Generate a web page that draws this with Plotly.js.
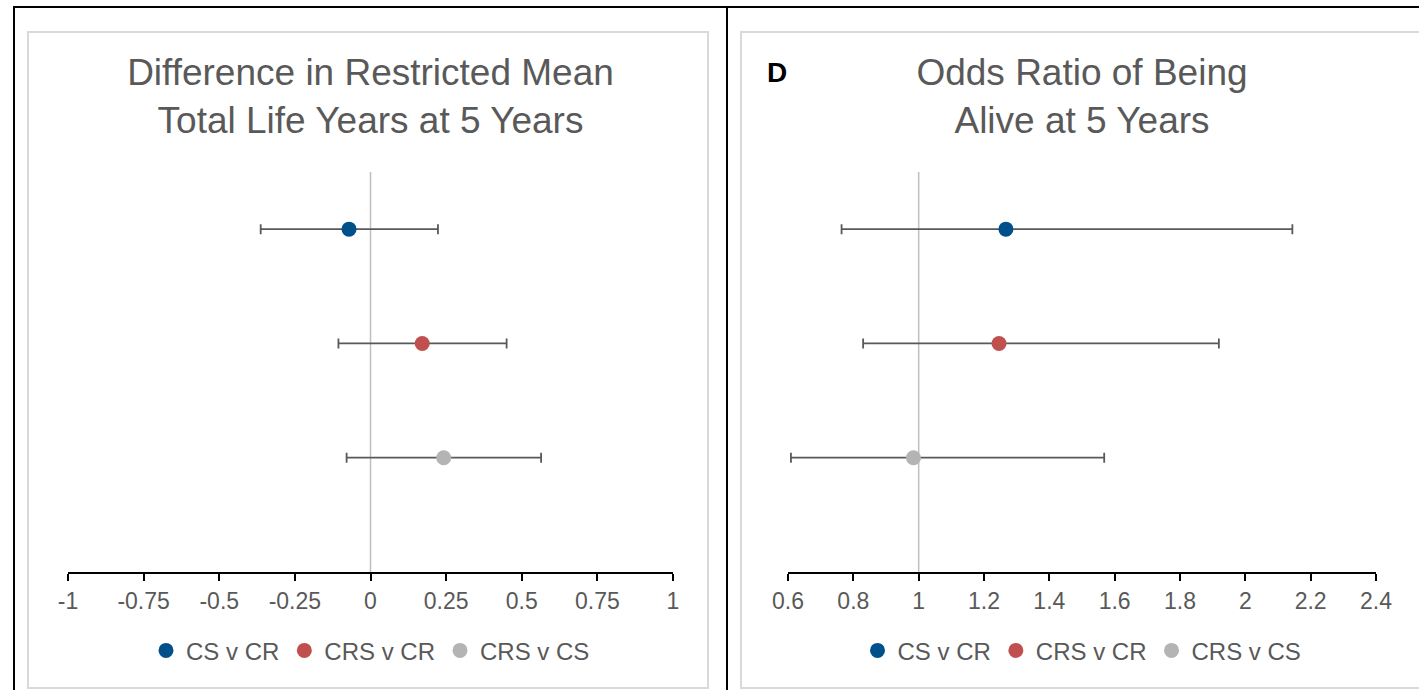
<!DOCTYPE html>
<html>
<head>
<meta charset="utf-8">
<script src="https://cdn.plot.ly/plotly-3.0.1.min.js"></script>
<style>
  html, body { margin:0; padding:0; background:#fff; width:1419px; height:690px; overflow:hidden; }
  .bl { position:absolute; background:#000; }
  .box { position:absolute; border:2px solid #d9d9d9; box-sizing:border-box; background:#fff; }
  .chart { position:absolute; }
</style>
</head>
<body>
<div class="bl" style="left:13px; top:6px; width:1406px; height:2px;"></div>
<div class="bl" style="left:13px; top:6px; width:2px; height:684px;"></div>
<div class="bl" style="left:726px; top:6px; width:2px; height:684px;"></div>
<div class="box" style="left:27px; top:31px; width:682px; height:658px;"></div>
<div class="box" style="left:740px; top:31px; width:700px; height:658px;"></div>
<div id="left" class="chart" style="left:28px; top:32px; width:680px; height:656px;"></div>
<div id="right" class="chart" style="left:741px; top:32px; width:680px; height:656px;"></div>
<script>
// ---- data ----
const categories = ["CS v CR", "CRS v CR", "CRS v CS"];
const colors = ["#00508c", "#c0504d", "#b4b4b4"];

const rmtlDiff = [-0.071, 0.171, 0.242];
const rmtlLow  = [-0.363, -0.106, -0.079];
const rmtlHigh = [0.223, 0.450, 0.564];

const orVal  = [1.267, 1.246, 0.984];
const orLow  = [0.764, 0.830, 0.609];
const orHigh = [2.144, 1.919, 1.568];

const leftTickVals = [-1, -0.75, -0.5, -0.25, 0, 0.25, 0.5, 0.75, 1];
const leftTickText = ["-1", "-0.75", "-0.5", "-0.25", "0", "0.25", "0.5", "0.75", "1"];
const rightTickVals = [0.6, 0.8, 1, 1.2, 1.4, 1.6, 1.8, 2, 2.2, 2.4];
const rightTickText = ["0.6", "0.8", "1", "1.2", "1.4", "1.6", "1.8", "2", "2.2", "2.4"];

const FONT = '"Liberation Sans", Arial, Helvetica, sans-serif';
const TXT = '#595959';

function traces(vals, lows, highs) {
  return categories.map((c, i) => ({
    type: 'scatter', mode: 'markers', name: c,
    x: [vals[i]], y: [c],
    marker: { color: colors[i], size: 15 },
    error_x: { type: 'data', symmetric: false,
      array: [highs[i] - vals[i]], arrayminus: [vals[i] - lows[i]],
      color: '#595959', thickness: 1.8, width: 5 },
    hoverinfo: 'x+name'
  }));
}

function layout(titleText, xr, tv, tt, refX, margin, extraAnn) {
  return {
    width: 680, height: 656,
    paper_bgcolor: 'rgba(0,0,0,0)', plot_bgcolor: 'rgba(0,0,0,0)',
    font: { family: FONT, color: TXT },
    margin: margin,
    title: { text: titleText, font: { family: FONT, size: 37, color: TXT },
             x: 0.5, xanchor: 'center', y: 0.919, yanchor: 'middle', xref: 'paper' },
    showlegend: true,
    legend: { orientation: 'h', x: 0.5, xanchor: 'center', y: -0.197, yanchor: 'middle',
              font: { family: FONT, size: 24, color: TXT }, itemwidth: 30, traceorder: 'normal' },
    xaxis: { range: xr, tickvals: tv, ticktext: tt, showline: true, linecolor: '#000', linewidth: 2,
             ticks: 'outside', ticklen: 7, tickwidth: 2, tickcolor: '#000', showgrid: false, zeroline: false,
             tickfont: { family: FONT, size: 23, color: TXT }, fixedrange: true },
    yaxis: { type: 'category', categoryorder: 'array', categoryarray: categories,
             range: [3.0, -0.5], showticklabels: false, showgrid: false, zeroline: false,
             showline: false, ticks: '', fixedrange: true },
    shapes: [{ type: 'line', xref: 'x', yref: 'paper', x0: refX, x1: refX, y0: 0, y1: 1,
               line: { color: '#bfbfbf', width: 1.5 }, layer: 'below' }],
    annotations: extraAnn || []
  };
}

Plotly.newPlot('left', traces(rmtlDiff, rmtlLow, rmtlHigh),
  layout('Difference in Restricted Mean<br>Total Life Years at 5 Years', [-1, 1],
         leftTickVals, leftTickText, 0, { l: 40, r: 35, t: 140, b: 116 }),
  { staticPlot: true });

Plotly.newPlot('right', traces(orVal, orLow, orHigh),
  layout('Odds Ratio of Being<br>Alive at 5 Years', [0.6, 2.4],
         rightTickVals, rightTickText, 1, { l: 47, r: 45, t: 140, b: 116 },
         [{ text: '<b>D</b>', xref: 'paper', yref: 'paper', x: -0.018, y: 1.25, yanchor: 'middle', xanchor: 'center',
            showarrow: false, font: { family: FONT, size: 28, color: '#000' } }]),
  { staticPlot: true });
</script>
</body>
</html>
